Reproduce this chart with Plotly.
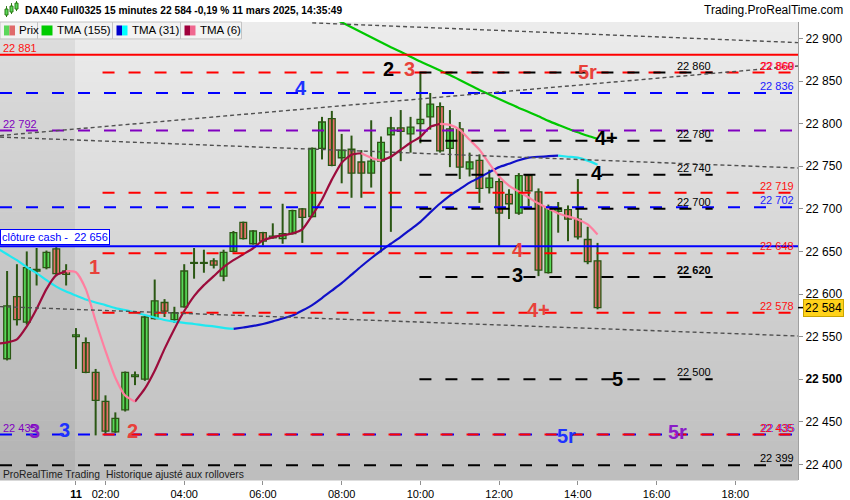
import plotly.graph_objects as go

FONT = "Liberation Sans, Arial, sans-serif"

# ---------------- data ----------------
# candle slots: 15-minute bars, slot 0 = 11 mars 01:15 (negative = 10 mars evening)
slots = list(range(-7, 54))
opens = [22524, 22597, 22567, 22627, 22631, 22653, 22627,
         22550, 22543, 22508, 22474, 22438, 22464, 22503, 22500, 22571, 22590,
         22570, 22585, 22636, 22636, 22639, 22621, 22650, 22684, 22659, 22672,
         22666, 22665, 22671, 22700, 22691, 22771, 22806, 22760, 22770, 22755,
         22742, 22756, 22787, 22795, 22788, 22800, 22808, 22820, 22771, 22794,
         22747, 22757, 22725, 22732, 22717, 22695, 22739, 22720, 22625, 22697,
         22699, 22688, 22664, 22639]
highs = [22627, 22635, 22650, 22654, 22651, 22655, 22635,
         22560, 22549, 22512, 22481, 22461, 22509, 22509, 22575, 22617, 22594,
         22585, 22635, 22654, 22652, 22642, 22652, 22674, 22685, 22675, 22673,
         22683, 22706, 22699, 22701, 22772, 22808, 22815, 22788, 22786, 22769,
         22804, 22785, 22808, 22816, 22808, 22860, 22836, 22825, 22816, 22802,
         22766, 22764, 22746, 22736, 22723, 22742, 22740, 22724, 22705, 22708,
         22704, 22735, 22679, 22660]
lows = [22522, 22563, 22564, 22610, 22629, 22621, 22610,
        22512, 22507, 22434, 22436, 22437, 22462, 22493, 22498, 22570, 22573,
        22566, 22584, 22618, 22625, 22630, 22615, 22649, 22664, 22658, 22657,
        22665, 22659, 22670, 22660, 22690, 22758, 22750, 22730, 22713, 22713,
        22725, 22649, 22673, 22756, 22766, 22777, 22793, 22766, 22749, 22735,
        22738, 22707, 22718, 22656, 22688, 22693, 22703, 22621, 22624, 22672,
        22662, 22664, 22635, 22582]
closes = [22586, 22570, 22631, 22629, 22649, 22624, 22623,
          22552, 22508, 22475, 22439, 22454, 22508, 22505, 22573, 22592, 22580,
          22578, 22627, 22637, 22637, 22634, 22649, 22672, 22665, 22674, 22662,
          22668, 22671, 22698, 22690, 22771, 22802, 22751, 22769, 22742, 22742,
          22756, 22778, 22795, 22791, 22796, 22805, 22823, 22768, 22794, 22749,
          22755, 22724, 22736, 22695, 22706, 22739, 22721, 22628, 22702, 22701,
          22688, 22667, 22638, 22584]

# moving averages (one more slot on the left, running off the chart edge)
ma_slots = list(range(-8, 54))
tma6 = [22541.5, 22543.2, 22546.7, 22561.9, 22582.4, 22605.8, 22622.1, 22626.8,
        22625.6, 22605.8, 22568.3, 22533.3, 22501.7, 22480.7, 22473.6, 22488.8,
        22509.9, 22535.6, 22559.0, 22580.0, 22597.6, 22610.4, 22621.0, 22631.5,
        22639.7, 22646.7, 22653.7, 22663.0, 22666.5, 22668.9, 22671.2, 22675.9,
        22692.3, 22711.0, 22734.3, 22754.2, 22763.6, 22765.3, 22760.1, 22756.6,
        22761.2, 22769.4, 22777.6, 22784.6, 22796.3, 22799.8, 22798.6, 22792.8,
        22781.1, 22769.4, 22753.0, 22737.9, 22727.3, 22720.3, 22713.3, 22706.3,
        22700.4, 22694.6, 22691.1, 22687.6, 22681.7, 22670.0]
tma31 = [22653.7, 22646.7, 22639.7, 22631.5, 22624.5, 22616.3, 22608.7, 22602.8,
         22598.2, 22593.5, 22590.0, 22587.0, 22583.5, 22581.2, 22578.3, 22575.4,
         22572.4, 22569.5, 22567.5, 22566.0, 22564.8, 22563.1, 22561.9, 22560.2,
         22559.0, 22560.7, 22562.5, 22564.8, 22567.8, 22571.3, 22574.8, 22580.6,
         22587.0, 22595.2, 22604.0, 22612.8, 22622.7, 22632.6, 22642.0, 22650.8,
         22659.0, 22667.1, 22675.9, 22684.7, 22695.8, 22706.3, 22715.6, 22723.2,
         22730.8, 22736.7, 22743.1, 22749.0, 22753.0, 22757.1, 22760.1, 22761.2,
         22761.8, 22762.4, 22761.2, 22760.1, 22756.6, 22751.9]
tma155_slots = list(range(26, 54))
tma155 = [22924.9, 22919.1, 22913.2, 22907.4, 22901.5, 22895.7, 22889.8,
          22884.6, 22878.7, 22872.9, 22867.6, 22862.4, 22857.1, 22851.3, 22845.4,
          22839.6, 22834.3, 22829.0, 22823.8, 22818.5, 22813.8, 22808.6, 22803.3,
          22798.6, 22794.0, 22789.9, 22785.8, 22782.3]

# horizontal levels
red_solid_levels = [22881]
cash_close = 22656
red_dashed_levels = [22860, 22719, 22648, 22578, 22435]
red_dashed_from = 2.7
blue_dashed_levels = [22836, 22702, 22435]
purple_dashed_levels = [22792]
black_dashed_levels = [22860, 22780, 22740, 22700, 22620, 22500]
black_dashed_span = [34.9, 64.7]
black_full_levels = [22399]
last_price = 22584

# dotted trend lines: (slot start, value start, slot end, value end)
trend_lines = [(24.0, 22918.4, 73.37, 22895.2),
               (-7.72, 22786.0, 73.37, 22867.8),
               (-7.72, 22784.3, 73.37, 22748.0),
               (-7.72, 22585.2, 73.37, 22550.7)]

# wave labels: text, slot, value, colour key
wave_labels = [("1", 1.93, 22631.5, "red"), ("2", 5.79, 22438.6, "red"),
               ("3", -4.17, 22438.6, "purple"), ("3", -1.12, 22439.8, "blue"),
               ("4", 22.84, 22841.5, "blue"), ("2", 31.8, 22864.1, "black"),
               ("3", 33.94, 22864.1, "red"), ("5r", 52.03, 22860.6, "red"),
               ("4+", 53.86, 22783.4, "black"), ("4", 52.95, 22742.5, "black"),
               ("4", 44.92, 22651.3, "red"), ("3", 44.82, 22622.1, "black"),
               ("4+", 46.95, 22581.2, "red"), ("5", 54.98, 22500.6, "black"),
               ("5r", 49.8, 22432.7, "blue"), ("5r", 61.08, 22437.4, "purple")]

tick_slots = [0, 3, 11, 19, 27, 35, 43, 51, 59, 67]
tick_labels = ["<b>11</b>", "02:00", "04:00", "06:00", "08:00", "10:00",
               "12:00", "14:00", "16:00", "18:00"]
price_ticks = [22400, 22450, 22500, 22550, 22600, 22650, 22700, 22750, 22800, 22850, 22900]

XMIN, XMAX = -7.72, 73.37
YMIN, YMAX = 22381.6, 22919.4

# ---------------- styling helpers ----------------
PLOT_R, PLOT_T, PLOT_B = 798, 22, 482
def px(x): return x / PLOT_R
def py(y): return (PLOT_B - y) / (PLOT_B - PLOT_T)

TXT = {"red": "#e8413a", "blue": "#1e32ff", "purple": "#8a1cc8", "black": "#000000"}
GREEN_FILL, RED_FILL, OUTLINE = "#58d858", "#e8706c", "#2b5714"

fig = go.Figure()

# background gradient
shapes = []
N = 46
for k in range(N):
    t = k / (N - 1)
    m = int(round(236 - 46 * t))
    p = int(round(222 - 43 * t))
    y0 = PLOT_T + k * (PLOT_B - PLOT_T) / N
    y1 = PLOT_T + (k + 1) * (PLOT_B - PLOT_T) / N + 0.5
    shapes.append(dict(type="rect", xref="paper", yref="paper", layer="below",
                       x0=px(75), x1=1, y0=py(y1), y1=py(y0), line_width=0,
                       fillcolor=f"rgb({m},{m},{m})"))
    shapes.append(dict(type="rect", xref="paper", yref="paper", layer="below",
                       x0=0, x1=px(75), y0=py(y1), y1=py(y0), line_width=0,
                       fillcolor=f"rgb({p},{p},{p})"))

# ---------------- candles ----------------
wx, wy = [], []
for s, h, l in zip(slots, highs, lows):
    wx += [s, s, None]
    wy += [l, h, None]
fig.add_trace(go.Scatter(x=wx, y=wy, mode="lines", line=dict(color=OUTLINE, width=2),
                         hoverinfo="skip", showlegend=False))
for up, fill in ((True, GREEN_FILL), (False, RED_FILL)):
    xs, bs, hs = [], [], []
    for s, o, c in zip(slots, opens, closes):
        if (c >= o) == up:
            xs.append(s)
            bs.append(min(o, c))
            hs.append(max(abs(c - o), 0.5))
    fig.add_trace(go.Bar(x=xs, y=hs, base=bs, width=0.68,
                         marker=dict(color=fill, line=dict(color=OUTLINE, width=1.3)),
                         showlegend=False, hoverinfo="skip"))

# ---------------- moving averages ----------------
def add_two_colour(xs, ys, up_col, down_col, width=2.2):
    runs = {True: ([], []), False: ([], [])}
    k = 0
    n = len(xs)
    while k < n - 1:
        d = ys[k + 1] >= ys[k]
        j = k
        while j < n - 1 and (ys[j + 1] >= ys[j]) == d:
            j += 1
        rx, ry = runs[d]
        rx += list(xs[k:j + 1]) + [None]
        ry += list(ys[k:j + 1]) + [None]
        k = j
    for d, col in ((True, up_col), (False, down_col)):
        rx, ry = runs[d]
        if rx:
            fig.add_trace(go.Scatter(x=rx, y=ry, mode="lines",
                                     line=dict(color=col, width=width, shape="spline", smoothing=0.6),
                                     hoverinfo="skip", showlegend=False))

fig.add_trace(go.Scatter(x=tma155_slots, y=tma155, mode="lines",
                         line=dict(color="#00c800", width=2.2, shape="spline", smoothing=0.6),
                         hoverinfo="skip", showlegend=False))
add_two_colour(ma_slots, tma31, "#1010c8", "#20e8f0")
add_two_colour(ma_slots, tma6, "#9c0c3c", "#ff7fa0")

# ---------------- levels ----------------
def add_levels(levels, x0, x1, color, dash, width=2):
    xs, ys = [], []
    for v in levels:
        xs += [x0, x1, None]
        ys += [v, v, None]
    fig.add_trace(go.Scatter(x=xs, y=ys, mode="lines",
                             line=dict(color=color, width=width, dash=dash),
                             hoverinfo="skip", showlegend=False))

DASH = "12px,14px"
add_levels(purple_dashed_levels, XMIN, XMAX, "#8000c0", DASH)
add_levels(blue_dashed_levels, XMIN, XMAX, "#0000ff", DASH)
add_levels(red_dashed_levels, red_dashed_from, XMAX, "#ff0000", DASH)
add_levels(black_dashed_levels, black_dashed_span[0], black_dashed_span[1], "#000000", DASH)
add_levels(black_full_levels, XMIN, XMAX, "#000000", DASH)
add_levels(red_solid_levels, XMIN, XMAX, "#ff0000", "solid")
add_levels([cash_close], XMIN, XMAX, "#0000ff", "solid")

for (s0, v0, s1, v1) in trend_lines:
    fig.add_trace(go.Scatter(x=[s0, s1], y=[v0, v1], mode="lines",
                             line=dict(color="#505050", width=1.4, dash="4px,3px"),
                             hoverinfo="skip", showlegend=False))

# ---------------- annotations ----------------
ann = []
def fmt(v):
    s = f"{int(round(v)):,}".replace(",", " ")
    return s

for text, s, v, ck in wave_labels:
    ann.append(dict(x=s, y=v, xref="x", yref="y", text=f"<b>{text}</b>", showarrow=False,
                    font=dict(family=FONT, size=20, color=TXT[ck]), xanchor="center", yanchor="middle"))

def lvl_label(v, color, where, bold=False, shift=0):
    t = fmt(v)
    if bold:
        t = f"<b>{t}</b>"
    if where == "right":
        d = dict(x=1, xref="paper", xanchor="right", xshift=-2 + shift)
    elif where == "left":
        d = dict(x=0, xref="paper", xanchor="left", xshift=1 + shift)
    else:
        d = dict(x=black_dashed_span[1], xref="x", xanchor="right", xshift=shift)
    d.update(y=v, yref="y", yanchor="middle", yshift=7, text=t, showarrow=False,
             font=dict(family=FONT, size=11, color=color))
    ann.append(d)

for v in black_dashed_levels:
    lvl_label(v, "#000000", "mid", bold=(v == 22620))
lvl_label(22860, "#ff40a0", "right", shift=1)
lvl_label(22860, "#ff0000", "right")
lvl_label(22836, "#2020ff", "right")
lvl_label(22719, "#ff1010", "right")
lvl_label(22702, "#2020ff", "right")
lvl_label(22648, "#ff1010", "right")
lvl_label(22578, "#ff1010", "right")
lvl_label(22435, "#2020ff", "right", shift=1)
lvl_label(22435, "#ff1010", "right")
lvl_label(22399, "#000000", "right")
lvl_label(22881, "#ff1010", "left")
lvl_label(22792, "#8000c0", "left")
lvl_label(22435, "#8000c0", "left")

# cash close box
ann.append(dict(x=0, xref="paper", y=cash_close, yref="y", xanchor="left", yanchor="bottom",
                yshift=1, text="clôture cash -  " + fmt(cash_close), showarrow=False,
                font=dict(family=FONT, size=11, color="#0000ff"), bgcolor="#ffffff",
                bordercolor="#0000ff", borderwidth=1, borderpad=1))
# last price tag
ann.append(dict(x=1, xref="paper", y=last_price, yref="y", xanchor="left", yanchor="middle",
                xshift=5, text=fmt(last_price), showarrow=False,
                font=dict(family=FONT, size=12, color="#000000"), bgcolor="#ffd21a",
                bordercolor="#c9a400", borderwidth=1, borderpad=1))
shapes.append(dict(type="line", xref="paper", yref="y", x0=1, x1=px(804),
                   y0=last_price, y1=last_price, line=dict(color="#000000", width=1.5)))

# title bar
ann.append(dict(x=px(23), y=py(10), xref="paper", yref="paper", xanchor="left", yanchor="middle",
                text="<b>DAX40 Full0325 15 minutes 22 584 -0,19 % 11 mars 2025, 14:35:49</b>",
                showarrow=False, font=dict(family=FONT, size=10.2, color="#000000")))
ann.append(dict(x=px(845), y=py(10), xref="paper", yref="paper", xanchor="right", yanchor="middle",
                text="Trading.ProRealTime.com", showarrow=False,
                font=dict(family=FONT, size=12, color="#000000")))
# title icon
for (x0, x1, y0, y1, yw0, yw1) in [(5, 8, 9, 15, 6, 17), (10, 13, 6, 12, 3, 14), (15, 18, 3, 9, 1, 11)]:
    shapes.append(dict(type="line", xref="paper", yref="paper", x0=px((x0 + x1) / 2), x1=px((x0 + x1) / 2),
                       y0=py(yw1), y1=py(yw0), line=dict(color="#2b7a14", width=1)))
    shapes.append(dict(type="rect", xref="paper", yref="paper", x0=px(x0), x1=px(x1),
                       y0=py(y1), y1=py(y0), fillcolor="#5ad85a", line=dict(color="#2b7a14", width=1)))

# legend row
legend_items = [("Prix", 0, 37.5, ("#5ad85a", "#e06a6a")),
                ("TMA (155)", 37.5, 112.5, ("#00cc00", "#00cc00")),
                ("TMA (31)", 112.5, 180.5, ("#0000cc", "#00ffff")),
                ("TMA (6)", 180.5, 241.5, ("#a0003c", "#f06890"))]
for name, x0, x1, (c1, c2) in legend_items:
    shapes.append(dict(type="rect", xref="paper", yref="paper", x0=px(x0), x1=px(x1),
                       y0=py(39), y1=py(22), fillcolor="#f3f3f3", line=dict(color="#c4c4c4", width=1)))
    shapes.append(dict(type="rect", xref="paper", yref="paper", x0=px(x0 + 4), x1=px(x0 + 9.5),
                       y0=py(35.5), y1=py(25.5), fillcolor=c1, line_width=0))
    shapes.append(dict(type="rect", xref="paper", yref="paper", x0=px(x0 + 9.5), x1=px(x0 + 15),
                       y0=py(35.5), y1=py(25.5), fillcolor=c2, line_width=0))
    ann.append(dict(x=px(x0 + 17), y=py(30.5), xref="paper", yref="paper", xanchor="left",
                    yanchor="middle", text=name, showarrow=False,
                    font=dict(family=FONT, size=11.5, color="#000000")))

# footer text inside plot
ann.append(dict(x=px(1), y=py(476), xref="paper", yref="paper", xanchor="left", yanchor="middle",
                text="ProRealTime Trading", showarrow=False, font=dict(family=FONT, size=10.3, color="#202020")))
ann.append(dict(x=px(104), y=py(476), xref="paper", yref="paper", xanchor="left", yanchor="middle",
                text="Historique ajusté aux rollovers", showarrow=False,
                font=dict(family=FONT, size=10.3, color="#202020")))

fig.update_layout(
    width=850, height=500,
    margin=dict(l=0, r=850 - PLOT_R, t=PLOT_T, b=500 - PLOT_B),
    paper_bgcolor="#ffffff", plot_bgcolor="#e0e0e0",
    barmode="overlay", bargap=0, showlegend=False,
    shapes=shapes, annotations=ann,
    font=dict(family=FONT, size=12, color="#000000"),
    xaxis=dict(range=[XMIN, XMAX], showgrid=False, zeroline=False, showline=False,
               tickmode="array", tickvals=tick_slots, ticktext=tick_labels,
               ticks="outside", ticklen=4, tickcolor="#909090",
               tickfont=dict(family=FONT, size=11, color="#000000")),
    yaxis=dict(range=[YMIN, YMAX], side="right", showgrid=False, zeroline=False,
               showline=True, linecolor="#a0a0a0", linewidth=1,
               tickmode="array", tickvals=price_ticks,
               ticktext=[("<b>%s</b>" % fmt(v)) if v == 22500 else fmt(v) for v in price_ticks],
               ticks="outside", ticklen=4, tickcolor="#909090",
               tickfont=dict(family=FONT, size=12, color="#000000")),
)

fig.write_html("out.html", config={"displayModeBar": False, "staticPlot": True},
               post_script="document.body.style.margin='0px';document.body.style.overflow='hidden';")
